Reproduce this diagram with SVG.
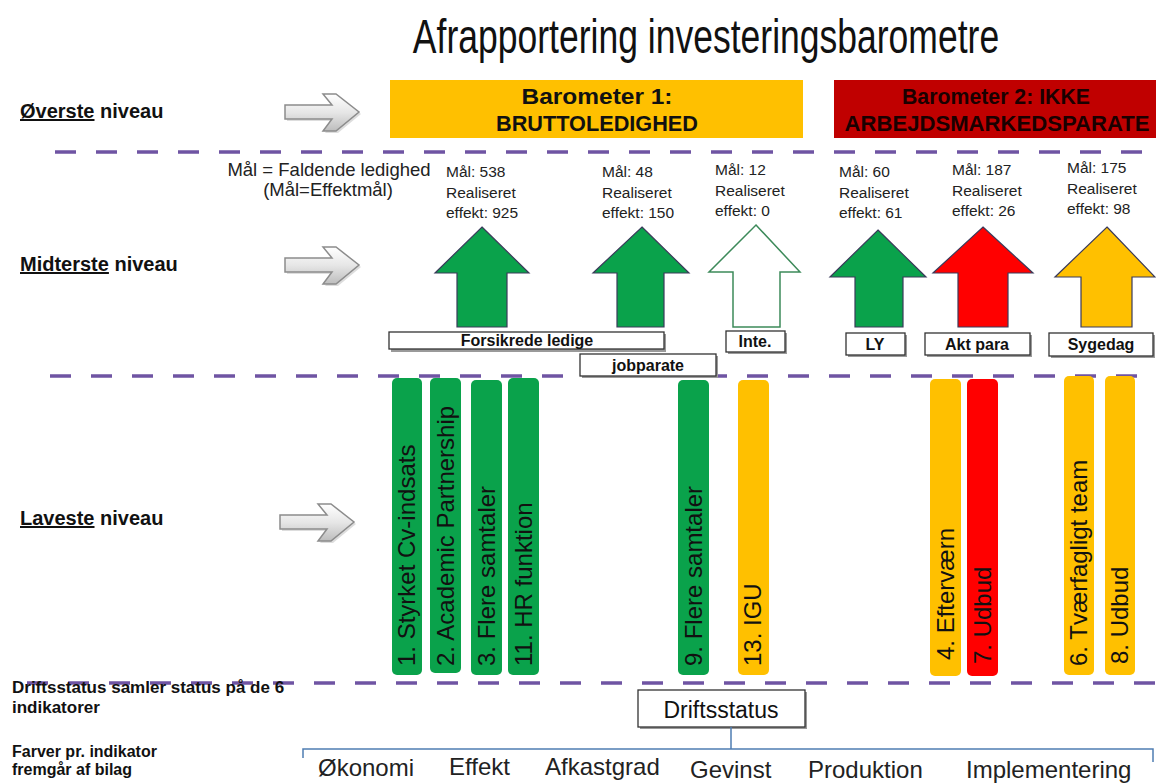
<svg xmlns="http://www.w3.org/2000/svg" width="1156" height="783" viewBox="0 0 1156 783">
<defs>
<linearGradient id="gArr" x1="0" y1="0" x2="0" y2="1">
<stop offset="0" stop-color="#ffffff"/>
<stop offset="0.5" stop-color="#e6e6e6"/>
<stop offset="1" stop-color="#bdbdbd"/>
</linearGradient>
<polygon id="hollow" points="0,-7 47,-7 38,-18 51,-18 74,0 51,19 38,19 47,7 0,7"/>
</defs>
<style>
.lvl{font-family:"Liberation Sans",Arial,sans-serif;font-weight:bold;font-size:20px;fill:#111}
.ul{text-decoration:underline}
.dash{stroke:#6f54a3;stroke-width:3.5;stroke-dasharray:21 20;fill:none}
.mal{font-family:"Liberation Sans",Arial,sans-serif;font-size:15.5px;fill:#222}
.goal{font-family:"Liberation Sans",Arial,sans-serif;font-size:18.5px;fill:#222;text-anchor:middle}
.baro{font-family:"Liberation Sans",Arial,sans-serif;font-weight:bold;font-size:22px;text-anchor:middle}
.lbl rect.b{fill:#fff;stroke:#333;stroke-width:1.3}
.lbl rect.s{fill:#9a9a9a}
.lbl text{font-family:"Liberation Sans",Arial,sans-serif;font-weight:bold;font-size:16px;text-anchor:middle;fill:#111}
.bar text{font-family:"Liberation Sans",Arial,sans-serif;font-size:24px;fill:#111}
.grn{fill:#0aa24b}
.yel{fill:#ffc000}
.red{fill:#ff0000}
.arw{stroke:#3a3a5a;stroke-width:1.2}
.grey{fill:url(#gArr);stroke:#8c8c8c;stroke-width:1.5}
.foot{font-family:"Liberation Sans",Arial,sans-serif;font-weight:bold;font-size:16px;fill:#111}
.foot1{font-family:"Liberation Sans",Arial,sans-serif;font-weight:bold;font-size:17px;fill:#111}
.ind{font-family:"Liberation Sans",Arial,sans-serif;font-size:24px;fill:#222}
</style>
<rect width="1156" height="783" fill="#fff"/>

<text transform="translate(706,53) scale(0.74,1)" x="0" y="0" text-anchor="middle" font-family="Liberation Sans, Arial, sans-serif" font-size="48" fill="#111">Afrapportering investeringsbarometre</text>

<g id="level-labels">
<text class="lvl" x="20" y="118"><tspan class="ul">Øverste</tspan> niveau</text>
<text class="lvl" x="20" y="271"><tspan class="ul">Midterste</tspan> niveau</text>
<text class="lvl" x="20" y="525"><tspan class="ul">Laveste</tspan> niveau</text>
</g>

<g id="pointer-arrows">
<use href="#hollow" x="287" y="114" fill="#bbb" opacity="0.5"/>
<use href="#hollow" x="285" y="112" class="grey"/>
<use href="#hollow" x="287" y="267" fill="#bbb" opacity="0.5"/>
<use href="#hollow" x="285" y="265" class="grey"/>
<use href="#hollow" x="282" y="524" fill="#bbb" opacity="0.5"/>
<use href="#hollow" x="280" y="522" class="grey"/>
</g>

<g id="separators">
<line class="dash" x1="55" y1="152" x2="1156" y2="152"/>
<line class="dash" x1="50" y1="376" x2="1156" y2="376"/>
<line class="dash" x1="27" y1="683" x2="1156" y2="683"/>
</g>

<g id="barometer1">
<rect x="390" y="80" width="413" height="58" fill="#ffc000"/>
<text class="baro" x="597" y="104" textLength="151" lengthAdjust="spacingAndGlyphs" fill="#111">Barometer 1:</text>
<text class="baro" x="597" y="131" textLength="202" lengthAdjust="spacingAndGlyphs" fill="#111">BRUTTOLEDIGHED</text>
</g>
<g id="barometer2">
<rect x="834" y="80" width="322" height="58" fill="#c00000"/>
<text class="baro" x="996" y="104" textLength="188" lengthAdjust="spacingAndGlyphs" fill="#1a0000">Barometer 2: IKKE</text>
<text class="baro" x="997" y="131" textLength="305" lengthAdjust="spacingAndGlyphs" fill="#1a0000">ARBEJDSMARKEDSPARATE</text>
</g>

<g id="goal-texts">
<text class="goal" x="329" y="176">Mål = Faldende ledighed</text>
<text class="goal" x="328" y="196">(Mål=Effektmål)</text>
<text class="mal" x="446" y="177">Mål: 538</text>
<text class="mal" x="446" y="198">Realiseret</text>
<text class="mal" x="446" y="218">effekt: 925</text>
<text class="mal" x="602" y="177">Mål: 48</text>
<text class="mal" x="602" y="198">Realiseret</text>
<text class="mal" x="602" y="218">effekt: 150</text>
<text class="mal" x="715" y="175">Mål: 12</text>
<text class="mal" x="715" y="196">Realiseret</text>
<text class="mal" x="715" y="216">effekt: 0</text>
<text class="mal" x="839" y="177">Mål: 60</text>
<text class="mal" x="839" y="198">Realiseret</text>
<text class="mal" x="839" y="218">effekt: 61</text>
<text class="mal" x="952" y="175">Mål: 187</text>
<text class="mal" x="952" y="196">Realiseret</text>
<text class="mal" x="952" y="216">effekt: 26</text>
<text class="mal" x="1067" y="173">Mål: 175</text>
<text class="mal" x="1067" y="194">Realiseret</text>
<text class="mal" x="1067" y="214">effekt: 98</text>
</g>

<g id="mid-arrows">
<polygon id="arrow-538" class="grn arw" points="482,227 529,273 507,273 507,327 457,327 457,273 435,273"/>
<polygon id="arrow-48" class="grn arw" points="642,227 689,273 664,273 664,327 617,327 617,273 593,273"/>
<polygon id="arrow-12" fill="#fff" stroke="#3d8a5a" stroke-width="1.5" points="756,225 800,272 780,272 780,327 733,327 733,272 709,272"/>
<polygon id="arrow-60" class="grn arw" points="878,230 926,277 903,277 903,327 855,327 855,277 830,277"/>
<polygon id="arrow-187" class="red arw" points="983,227 1033,273 1008,273 1008,327 958,327 958,273 933,273"/>
<polygon id="arrow-175" class="yel arw" points="1107,227 1155,277 1132,277 1132,327 1081,327 1081,277 1055,277"/>
</g>

<g id="group-labels" class="lbl">
<g id="lbl-forsikrede"><rect class="s" x="391" y="334" width="275" height="18"/><rect class="b" x="389" y="332" width="275" height="17"/><text x="527" y="346">Forsikrede ledige</text></g>
<g id="lbl-jobparate"><rect class="s" x="582" y="356" width="136" height="22"/><rect class="b" x="580" y="354" width="136" height="22"/><text x="648" y="371">jobparate</text></g>
<g id="lbl-inte"><rect class="s" x="728" y="333" width="59" height="21"/><rect class="b" x="726" y="331" width="59" height="21"/><text x="755" y="347">Inte.</text></g>
<g id="lbl-ly"><rect class="s" x="848" y="335" width="59" height="22"/><rect class="b" x="846" y="333" width="59" height="22"/><text x="875" y="350">LY</text></g>
<g id="lbl-akt"><rect class="s" x="927" y="335" width="105" height="22"/><rect class="b" x="925" y="333" width="105" height="22"/><text x="977" y="350">Akt para</text></g>
<g id="lbl-syge"><rect class="s" x="1051" y="335" width="104" height="23"/><rect class="b" x="1049" y="333" width="104" height="23"/><text x="1101" y="350">Sygedag</text></g>
</g>

<g id="bars" class="bar">
<g id="bar-1"><rect class="grn" x="392" y="378" width="30" height="297" rx="5"/><text transform="translate(415,666) rotate(-90)">1. Styrket Cv-indsats</text></g>
<g id="bar-2"><rect class="grn" x="430" y="378" width="31" height="295" rx="5"/><text transform="translate(454,666) rotate(-90)">2. Academic Partnership</text></g>
<g id="bar-3"><rect class="grn" x="471" y="380" width="31" height="295" rx="5"/><text transform="translate(495,666) rotate(-90)">3. Flere samtaler</text></g>
<g id="bar-11"><rect class="grn" x="508" y="378" width="31" height="297" rx="5"/><text transform="translate(532,666) rotate(-90)">11. HR funktion</text></g>
<g id="bar-9"><rect class="grn" x="678" y="380" width="31" height="295" rx="5"/><text transform="translate(702,666) rotate(-90)">9. Flere samtaler</text></g>
<g id="bar-13"><rect class="yel" x="738" y="380" width="31" height="295" rx="5"/><text transform="translate(761,666) rotate(-90)">13. IGU</text></g>
<g id="bar-4"><rect class="yel" x="930" y="379" width="31" height="297" rx="5"/><text transform="translate(954,660) rotate(-90)">4. Efterværn</text></g>
<g id="bar-7"><rect class="red" x="967" y="379" width="31" height="297" rx="5"/><text transform="translate(991,664) rotate(-90)">7. Udbud</text></g>
<g id="bar-6"><rect class="yel" x="1064" y="376" width="30" height="299" rx="5"/><text transform="translate(1087,666) rotate(-90)">6. Tværfagligt team</text></g>
<g id="bar-8"><rect class="yel" x="1105" y="376" width="30" height="299" rx="5"/><text transform="translate(1128,664) rotate(-90)">8. Udbud</text></g>
</g>

<g id="footer-notes">
<text class="foot1" x="12" y="693">Driftsstatus samler status på de 6</text>
<text class="foot1" x="12" y="713">indikatorer</text>
<text class="foot" x="12" y="757">Farver pr. indikator</text>
<text class="foot" x="12" y="775">fremgår af bilag</text>
</g>

<g id="driftsstatus">
<rect x="640" y="692" width="167" height="37" fill="#999"/>
<rect x="638" y="690" width="167" height="37" fill="#fff" stroke="#333" stroke-width="1.3"/>
<text x="721" y="718" text-anchor="middle" font-family="Liberation Sans, Arial, sans-serif" font-size="23" fill="#111">Driftsstatus</text>
</g>

<g id="connectors">
<path d="M731,727 V749 M303,758 V749 H1153 V762" fill="none" stroke="#4f7db3" stroke-width="1.5"/>
</g>

<g id="indicators">
<text class="ind" x="318" y="776">Økonomi</text>
<text class="ind" x="449" y="775">Effekt</text>
<text class="ind" x="545" y="775">Afkastgrad</text>
<text class="ind" x="690" y="778">Gevinst</text>
<text class="ind" x="808" y="778">Produktion</text>
<text class="ind" x="966" y="778">Implementering</text>
</g>
</svg>
